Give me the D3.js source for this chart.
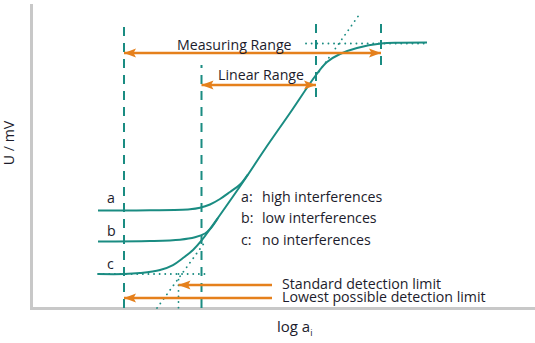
<!DOCTYPE html>
<html><head><meta charset="utf-8">
<script src="https://cdn.jsdelivr.net/npm/d3@7"></script>
<style>
html,body{margin:0;padding:0;background:#fff;}
text{font-family:"Open Sans","Noto Sans",sans-serif;fill:#1c1c2c;}
</style></head>
<body>
<script>
// ---- data (x: relative log a units, y: relative U units) ----
const curveC = [[13.2,11.33],[18.4,11.33],[21.6,11.67],[25.6,12.67],[28.2,14.33],[30.2,16.67],[32.2,19.33],[34.0,22.67],[35.6,26.33],[37.6,31.0],[42.2,42.0],[46.6,53.0],[51.6,65.0],[56.8,77.67],[59.0,82.0],[61.6,84.67],[65.0,86.67],[69.8,88.17],[73.6,88.43],[79.0,88.5]];
const curveA = [[13.2,32.5],[23.6,32.57],[31.6,32.9],[33.6,33.4],[35.6,34.5],[37.6,36.33],[39.6,38.67],[41.6,41.17],[43.2,44.6]];
const curveB = [[13.2,22.17],[23.6,22.33],[29.6,22.77],[32.6,23.57],[34.6,24.83],[35.8,26.67],[37.2,30.0]];
const dottedLines = [
  [[13.2,11.33],[35.6,11.33]],
  [[25.0,0],[34.6,22.0]],
  [[29.3,11.33],[29.3,0]],
  [[54.8,88.17],[79.0,88.17]],
  [[56.8,77.33],[65.4,97.67]]
];
const dashedLines = [
  [[18.4,0],[18.4,94.33]],
  [[33.9,0],[33.9,81]],
  [[56.8,70.33],[56.8,96]],
  [[69.8,81],[69.8,96]]
];
const rangeArrows = [
  {name:"Measuring Range", y:85, x0:18.4, x1:69.8, tx:29, ty:86},
  {name:"Linear Range", y:74.33, x0:33.9, x1:56.8, tx:37.2, ty:76}
];
const limitArrows = [
  {name:"Standard detection limit", y:7.67, x0:29.3, x1:48, ty:6.4},
  {name:"Lowest possible detection limit", y:3.33, x0:18.4, x1:48, ty:2}
];
const curveLabels = [{k:"a", y:35},{k:"b", y:24},{k:"c", y:13}];
const legendItems = [
  {k:"a:", t:"high interferences", y:35.3},
  {k:"b:", t:"low interferences", y:28.3},
  {k:"c:", t:"no interferences", y:21}
];

const W=535,H=343;
const teal="#1a8c82", orange="#e5801c", gray="#c8c8c8";
const FS=14.2;
const x=d3.scaleLinear().domain([0,100]).range([32,532]);
const y=d3.scaleLinear().domain([0,100]).range([308,8]);

const svg=d3.select("body").append("svg").attr("width",W).attr("height",H);
const defs=svg.append("defs");
defs.append("marker").attr("id","ah").attr("markerUnits","userSpaceOnUse")
  .attr("viewBox","0 -5 12 10").attr("markerWidth",12).attr("markerHeight",10)
  .attr("refX",12).attr("refY",0).attr("orient","auto-start-reverse")
  .append("path").attr("d","M0,-4.5L12,0L0,4.5L2.5,0Z").attr("fill",orange);

// axes
svg.append("line").attr("x1",31.5).attr("x2",31.5).attr("y1",4).attr("y2",310)
  .attr("stroke",gray).attr("stroke-width",3);
svg.append("line").attr("x1",30).attr("x2",535).attr("y1",308.5).attr("y2",308.5)
  .attr("stroke",gray).attr("stroke-width",3);

const straight=d3.line().x(d=>x(d[0])).y(d=>y(d[1]));
const smooth=d3.line().x(d=>x(d[0])).y(d=>y(d[1])).curve(d3.curveCatmullRom.alpha(0.5));

// dashed verticals
svg.selectAll(".dash").data(dashedLines).join("path").attr("d",straight)
  .attr("fill","none").attr("stroke",teal).attr("stroke-width",2).attr("stroke-dasharray","9,7");

// dotted helpers
svg.selectAll(".dot").data(dottedLines).join("path").attr("d",straight)
  .attr("fill","none").attr("stroke",teal).attr("stroke-width",1.8)
  .attr("stroke-linecap","round").attr("stroke-dasharray","0.1,5.5");

// curves
[curveC,curveA,curveB].forEach(c=>{
  svg.append("path").attr("d",smooth(c)).attr("fill","none")
    .attr("stroke",teal).attr("stroke-width",2);
});

// range arrows
rangeArrows.forEach(a=>{
  svg.append("line").attr("x1",x(a.x0)).attr("x2",x(a.x1)).attr("y1",y(a.y)).attr("y2",y(a.y))
    .attr("stroke",orange).attr("stroke-width",2.5)
    .attr("marker-start","url(#ah)").attr("marker-end","url(#ah)");
  svg.append("text").attr("x",x(a.tx)).attr("y",y(a.ty)).attr("font-size",FS).text(a.name);
});
limitArrows.forEach(a=>{
  svg.append("line").attr("x1",x(a.x1)).attr("x2",x(a.x0)).attr("y1",y(a.y)).attr("y2",y(a.y))
    .attr("stroke",orange).attr("stroke-width",2.5).attr("marker-end","url(#ah)");
  svg.append("text").attr("x",x(a.x1)+10).attr("y",y(a.ty)).attr("font-size",FS).text(a.name);
});

// curve labels
curveLabels.forEach(l=>{
  svg.append("text").attr("x",107).attr("y",y(l.y)).attr("font-size",FS).text(l.k);
});
legendItems.forEach(l=>{
  svg.append("text").attr("x",241).attr("y",y(l.y)).attr("font-size",FS).text(l.k);
  svg.append("text").attr("x",262).attr("y",y(l.y)).attr("font-size",FS).text(l.t);
});

// axis titles
svg.append("text").attr("transform","translate(14,143) rotate(-90)").attr("text-anchor","middle")
  .attr("font-size",FS).text("U / mV");
const xt=svg.append("text").attr("x",277).attr("y",332).attr("font-size",15);
xt.append("tspan").text("log a");
xt.append("tspan").attr("font-size",9).attr("dy",4).text("i");
</script>
</body></html>
